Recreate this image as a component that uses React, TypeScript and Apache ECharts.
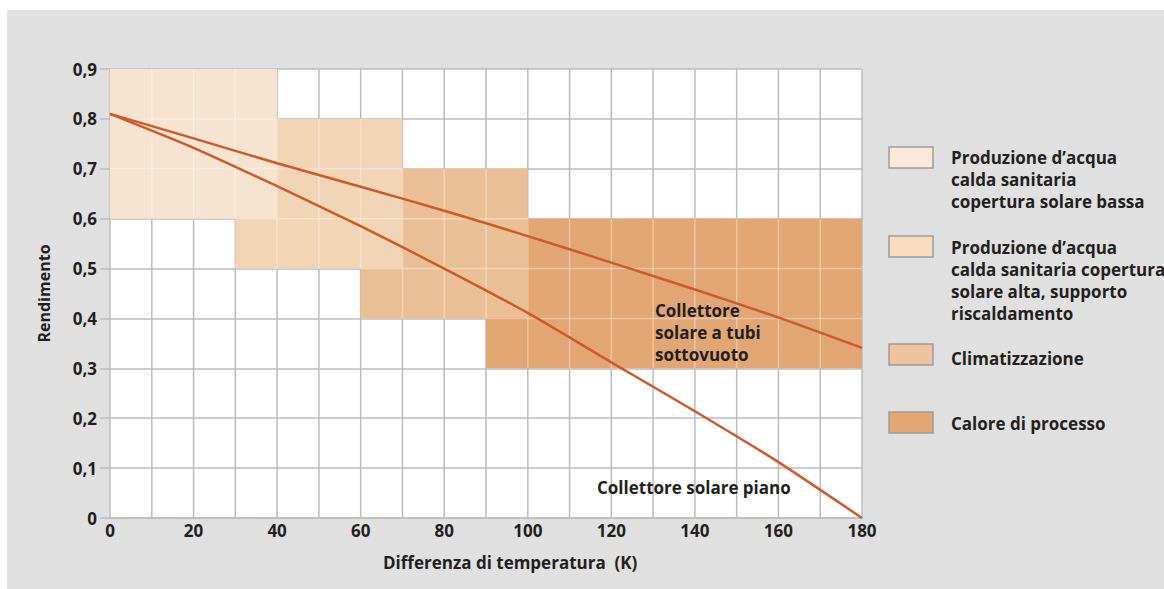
import React, { useEffect, useRef } from 'react';
import * as echarts from 'echarts';

// Temperature difference (K) sample points
const deltaT = [0, 20, 40, 60, 80, 100, 120, 140, 160, 180];
// Efficiency curves
const tubiSottovuoto = [0.81, 0.761, 0.711, 0.664, 0.616, 0.565, 0.512, 0.458, 0.402, 0.341];
const solarePiano = [0.81, 0.742, 0.665, 0.585, 0.5, 0.411, 0.312, 0.214, 0.112, 0.0];

// Application regions (drawn bottom to top)
const regionNames = [
  'Calore di processo',
  'Climatizzazione',
  'Produzione d’acqua calda sanitaria copertura solare alta, supporto riscaldamento',
  'Produzione d’acqua calda sanitaria copertura solare bassa',
];
const regionXFrom = [90, 60, 30, 0];
const regionXTo = [180, 100, 70, 40];
const regionYFrom = [0.3, 0.4, 0.5, 0.6];
const regionYTo = [0.6, 0.7, 0.8, 0.9];

// Legend texts (top to bottom)
const legendLabels = [
  'Produzione d’acqua\ncalda sanitaria\ncopertura solare bassa',
  'Produzione d’acqua\ncalda sanitaria copertura\nsolare alta, supporto\nriscaldamento',
  'Climatizzazione',
  'Calore di processo',
];

const curveLabelTubi = 'Collettore\nsolare a tubi\nsottovuoto';
const curveLabelPiano = 'Collettore solare piano';
const xAxisTitle = 'Differenza di temperatura  (K)';
const yAxisTitle = 'Rendimento';

const regionColors = ['#e1a674', '#ebbf95', '#f2d5b6', '#f6e3d0'];
const legendColors = ['#fbe9d8', '#f7dcc0', '#efc39c', '#e3a776'];
const legendTops = [146, 236, 347, 412];
const legendBoxTops = [147, 236, 344, 412];

const FONT = '"Open Sans", "Liberation Sans", Arial, sans-serif';
const TXT = '#231f20';
const LINE = '#cd5a2b';
const GRID = '#bcbcbc';

export default function App() {
  const ref = useRef<HTMLDivElement>(null);

  useEffect(() => {
    document.body.style.margin = '0';
    if (!ref.current) return;
    const chart = echarts.init(ref.current, null, { renderer: 'svg' });

    const regionData = regionNames.map((n, i) => ({
      name: n,
      value: [regionXFrom[i], regionXTo[i], regionYFrom[i], regionYTo[i]],
    }));

    const graphics: any[] = [
      {
        type: 'rect',
        z: -10,
        silent: true,
        shape: { x: 7, y: 10, width: 1157, height: 579 },
        style: { fill: '#e0e0e0' },
      },
      {
        type: 'text',
        x: 383,
        y: 551,
        style: { text: xAxisTitle, font: `bold 17px ${FONT}`, fill: TXT, lineHeight: 22, verticalAlign: 'top' },
      },
      {
        type: 'text',
        x: 655,
        y: 299,
        z: 100,
        style: { text: curveLabelTubi, font: `bold 17px ${FONT}`, fill: TXT, lineHeight: 22, verticalAlign: 'top' },
      },
      {
        type: 'text',
        x: 597,
        y: 476,
        z: 100,
        style: { text: curveLabelPiano, font: `bold 17px ${FONT}`, fill: TXT, lineHeight: 22, verticalAlign: 'top' },
      },
    ];
    legendLabels.forEach((lab, i) => {
      graphics.push({
        type: 'rect',
        shape: { x: 889, y: legendBoxTops[i], width: 44, height: 21 },
        style: { fill: legendColors[i], stroke: '#9c9c9c', lineWidth: 1.5 },
      });
      graphics.push({
        type: 'text',
        x: 951,
        y: legendTops[i],
        style: { text: lab, font: `bold 17px ${FONT}`, fill: TXT, lineHeight: 22, verticalAlign: 'top' },
      });
    });

    const option: any = {
      animation: false,
      backgroundColor: '#ffffff',
      grid: {
        show: true,
        backgroundColor: '#ffffff',
        borderWidth: 0,
        left: 110,
        top: 69,
        width: 752,
        height: 449,
        containLabel: false,
      },
      xAxis: {
        type: 'value',
        min: 0,
        max: 180,
        interval: 20,
        axisLine: { show: true, lineStyle: { color: GRID, width: 1.5 } },
        axisTick: { show: false },
        axisLabel: { margin: 4, fontFamily: FONT, fontWeight: 'bold', fontSize: 17, color: TXT },
        splitLine: { show: false },
      },
      yAxis: {
        type: 'value',
        min: 0,
        max: 0.9,
        interval: 0.1,
        name: yAxisTitle,
        nameLocation: 'middle',
        nameGap: 58,
        nameTextStyle: { fontFamily: FONT, fontWeight: 'bold', fontSize: 16, color: TXT },
        axisLine: { show: true, lineStyle: { color: GRID, width: 1.5 } },
        axisTick: { show: true, length: 10, lineStyle: { color: GRID, width: 1.5 } },
        axisLabel: {
          margin: 13,
          fontFamily: FONT,
          fontWeight: 'bold',
          fontSize: 17,
          color: TXT,
          formatter: (v: number) => (v === 0 ? '0' : v.toFixed(1).replace('.', ',')),
        },
        splitLine: { show: true, lineStyle: { color: GRID, width: 1.5 } },
      },
      graphic: graphics,
      series: [
        {
          // vertical grid lines every 10 K
          type: 'custom',
          z: 1,
          silent: true,
          clip: false,
          data: [[0]],
          renderItem: (params: any, api: any) => {
            const children: any[] = [];
            for (let k = 10; k <= 180; k += 10) {
              const a = api.coord([k, 0]);
              const b = api.coord([k, 0.9]);
              children.push({
                type: 'line',
                shape: { x1: a[0], y1: a[1], x2: b[0], y2: b[1] },
                style: { stroke: GRID, lineWidth: 1.5 },
              });
            }
            return { type: 'group', children };
          },
        },
        {
          type: 'custom',
          z: 2,
          silent: true,
          encode: { x: [0, 1], y: [2, 3] },
          data: regionData,
          renderItem: (params: any, api: any) => {
            const i = params.dataIndex;
            const x0 = api.value(0), x1 = api.value(1), y0 = api.value(2), y1 = api.value(3);
            const p0 = api.coord([x0, y1]);
            const p1 = api.coord([x1, y0]);
            const children: any[] = [
              {
                type: 'rect',
                shape: { x: p0[0], y: p0[1], width: p1[0] - p0[0], height: p1[1] - p0[1] },
                style: { fill: regionColors[i] },
              },
            ];
            for (let x = x0 + 10; x < x1 - 0.001; x += 10) {
              const a = api.coord([x, y0]);
              const b = api.coord([x, y1]);
              children.push({
                type: 'line',
                shape: { x1: a[0], y1: a[1], x2: b[0], y2: b[1] },
                style: { stroke: 'rgba(255,255,255,0.35)', lineWidth: 1.5 },
              });
            }
            for (let s = Math.round(y0 * 10) + 1; s < Math.round(y1 * 10); s++) {
              const a = api.coord([x0, s / 10]);
              const b = api.coord([x1, s / 10]);
              children.push({
                type: 'line',
                shape: { x1: a[0], y1: a[1], x2: b[0], y2: b[1] },
                style: { stroke: 'rgba(255,255,255,0.35)', lineWidth: 1.5 },
              });
            }
            return { type: 'group', children };
          },
        },
        {
          name: 'Collettore solare a tubi sottovuoto',
          type: 'line',
          z: 5,
          smooth: 0.2,
          symbol: 'none',
          lineStyle: { color: LINE, width: 2.5 },
          data: deltaT.map((t, i) => [t, tubiSottovuoto[i]]),
        },
        {
          name: 'Collettore solare piano',
          type: 'line',
          z: 5,
          smooth: 0.2,
          symbol: 'none',
          lineStyle: { color: LINE, width: 2.5 },
          data: deltaT.map((t, i) => [t, solarePiano[i]]),
        },
      ],
    };

    chart.setOption(option);
    return () => chart.dispose();
  }, []);

  return <div ref={ref} style={{ width: 1164, height: 589 }} />;
}
